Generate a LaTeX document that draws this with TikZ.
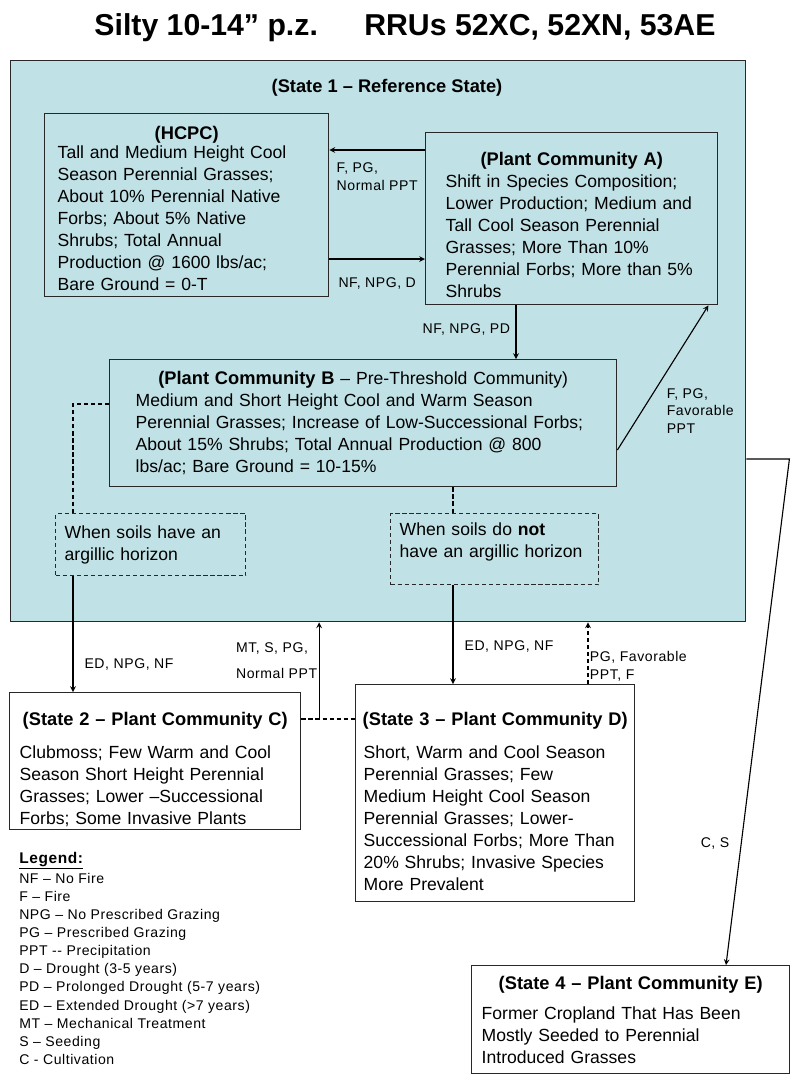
\documentclass[tikz,border=0pt]{standalone}
\usepackage{fontspec}
\setmainfont{Liberation Sans}
\newfontfamily\lblfamily[LetterSpace=4, Ligatures=TeX]{Liberation Sans}
\usepackage{tikz}
\usetikzlibrary{arrows,positioning,calc}

\definecolor{stateblue}{RGB}{192,225,229}
\definecolor{edge}{RGB}{40,40,40}

\newcommand{\bodyfont}{\fontsize{12.5}{15.65}\selectfont}
\newcommand{\hdr}{\fontsize{13}{15.65}\selectfont\bfseries}
\newcommand{\lblfont}{\lblfamily\fontsize{10}{12.5}\selectfont}
\newcommand{\ctr}[1]{\makebox[\linewidth]{#1}}
\newcommand{\padbot}[1]{\rule[-#1]{0pt}{0pt}}
\newcommand{\padtop}[1]{\rule{0pt}{\dimexpr 9.5pt+#1\relax}}

\begin{document}
\begin{tikzpicture}[
    x=0.025cm, y=-0.025cm,
    box/.style={draw=edge, line width=1pt, anchor=north west, align=left, inner sep=0pt, font=\bodyfont},
    dashbox/.style={box, dash pattern=on 3pt off 2pt},
    boxdim/.style n args={3}{minimum width=#1*0.025cm, minimum height=#2*0.025cm, text width=(#1-2*#3)*0.025cm},
    arrow/.style={line width=0.8pt, ->, >=stealth},
    dashline/.style={line width=0.8pt, dash pattern=on 3pt off 2pt},
    lbl/.style={font=\lblfont, align=left, inner sep=1pt}
]
    \useasboundingbox (0,0) rectangle (800,1081);

    \node[font=\fontsize{21.5}{24}\selectfont\bfseries, anchor=base] (title) at (405,35)
        {Silty 10-14” p.z.\hspace{33pt}RRUs 52XC, 52XN, 53AE};

    \node[box, fill=stateblue, boxdim={735}{561}{0}] (st1) at (10,60) {};
    \node[font=\hdr] (st1head) at (387,88) {(State 1 -- Reference State)};

    \node[box, boxdim={284}{183}{13}] (hcpc) at (44,113) {\ctr{\padtop{4.3pt}\hdr (HCPC)}\\[-2pt]
        Tall and Medium Height Cool\\Season Perennial Grasses;\\About 10\% Perennial Native\\
        Forbs; About 5\% Native\\Shrubs; Total Annual\\Production @ 1600 lbs/ac;\\Bare Ground = 0-T};
    \node[box, boxdim={292}{172}{20}] (pcA) at (425,132) {\ctr{\padtop{8.5pt}\hdr (Plant Community A)}\\
        Shift in Species Composition;\\Lower Production; Medium and\\Tall Cool Season Perennial\\
        Grasses; More Than 10\%\\Perennial Forbs; More than 5\%\\Shrubs};
    \node[box, boxdim={507}{127}{26}] (pcB) at (109,359) {\ctr{{\hdr (Plant Community B} -- Pre-Threshold Community)}\\
        Medium and Short Height Cool and Warm Season\\Perennial Grasses; Increase of Low-Successional Forbs;\\
        About 15\% Shrubs; Total Annual Production @ 800\\lbs/ac; Bare Ground = 10-15\%};

    \node[dashbox, boxdim={190}{62}{9}] (soilArg) at (55,513) {When soils have an\\argillic horizon};
    \node[dashbox, boxdim={208}{71}{9}] (soilNo) at (390,513) {When soils do \textbf{not}\\have an argillic horizon\padbot{13pt}};

    \node[box, boxdim={291}{137}{10}] (st2) at (9,692) {\ctr{\padtop{11.4pt}\hdr (State 2 -- Plant Community C)}\\[7.8pt]
        Clubmoss; Few Warm and Cool\\Season Short Height Perennial\\Grasses; Lower --Successional\\
        Forbs; Some Invasive Plants};
    \node[box, boxdim={279}{217}{8}] (st3) at (355,684) {\ctr{\padtop{11.4pt}\hdr (State 3 -- Plant Community D)}\\[7.8pt]
        Short, Warm and Cool Season\\Perennial Grasses; Few\\Medium Height Cool Season\\
        Perennial Grasses; Lower-\\Successional Forbs; More Than\\20\% Shrubs; Invasive Species\\
        More Prevalent};
    \node[box, boxdim={318}{108}{10}] (st4) at (471,965) {\ctr{\hdr (State 4 -- Plant Community E)}\\[5.7pt]
        Former Cropland That Has Been\\Mostly Seeded to Perennial\\Introduced Grasses};

    \draw[arrow] ($(pcA.north west)+(0,18)$) coordinate (a1) -- (a1 -| hcpc.east)
        node[lbl, midway, below=0.27cm] (lblRev) {F, PG,\\Normal PPT};
    \draw[arrow] ($(hcpc.north east)+(0,146)$) coordinate (a2) -- (a2 -| pcA.west)
        node[lbl, midway, below=0.41cm] (lblFwd) {NF, NPG, D};
    \draw[arrow] ($(pcA.south west)+(91,0)$) coordinate (a3) -- (a3 |- pcB.north)
        node[lbl, pos=0.45, left=0.1cm] (lblDown) {NF, NPG, PD};
    \draw[arrow] ($(pcB.north east)+(0,91)$) -- ($(pcA.south east)+(-10,0)$)
        node[lbl, pos=0.27, right=0.57cm] (lblUp) {F, PG,\\Favorable\\PPT};

    \draw[dashline] ($(pcB.north west)+(0,45)$) -| ($(soilArg.north west)+(18,0)$);
    \draw[dashline] ($(pcB.south west)+(344,0)$) coordinate (d1) -- (d1 |- soilNo.north);

    \draw[arrow] ($(soilArg.south west)+(18,0)$) coordinate (a4) -- (a4 |- st2.north)
        node[lbl, pos=0.76, right=0.24cm] (lblToC) {ED, NPG, NF};
    \draw[arrow] ($(soilNo.south west)+(63,0)$) coordinate (a5) -- (a5 |- st3.north)
        node[lbl, pos=0.62, right=0.24cm] (lblToD) {ED, NPG, NF};

    \draw[dashline] ($(st2.north east)+(0,27)$) coordinate (d2) -- coordinate[pos=0.33] (d3) (d2 -| st3.west);
    \draw[arrow] (d3) -- (d3 |- st1.south)
        node[lbl, pos=0.6, left] (lblFromC) {MT, S, PG,\\[6pt]Normal PPT};
    \draw[arrow, dashline] ($(st3.north west)+(233,0)$) coordinate (a6) -- (a6 |- st1.south)
        node[lbl, pos=0.29, right] (lblFromD) {PG, Favorable\\PPT, F};

    \draw[arrow] ($(st1.north east)+(0,399)$) -- ++(43,0) -- ($(st4.north west)+(255,0)$)
        node[lbl, pos=0.76, left=0.25cm] (lblToE) {C, S};

    \node[anchor=north west, align=left, inner sep=0pt, font=\lblfamily\fontsize{10}{12.9}\selectfont] (legend) at (19,852)
        {{\fontsize{11}{14}\selectfont\bfseries\underline{Legend:}}\\[1pt]
        NF -- No Fire\\F -- Fire\\NPG -- No Prescribed Grazing\\PG -- Prescribed Grazing\\
        PPT -{}- Precipitation\\D -- Drought (3-5 years)\\PD -- Prolonged Drought (5-7 years)\\
        ED -- Extended Drought (>7 years)\\MT -- Mechanical Treatment\\S -- Seeding\\C - Cultivation};
\end{tikzpicture}
\end{document}
